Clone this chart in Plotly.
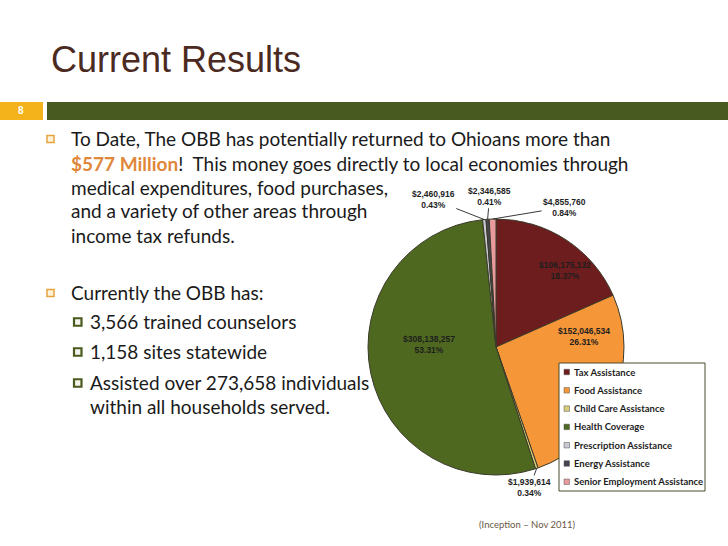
import math
import plotly.graph_objects as go

# ---------------- data ----------------
categories = ["Tax Assistance", "Food Assistance", "Child Care Assistance",
              "Health Coverage", "Prescription Assistance", "Energy Assistance",
              "Senior Employment Assistance"]
values = [106175132, 152046534, 1939614, 308138257, 2460916, 2346585, 4855760]
colors = ["#6e1d1e", "#f59638", "#d6cc7c", "#4e6820", "#c9c9d2", "#45454f", "#e89a9c"]

title_text = "Current Results"
slide_number = "8"
bullet1_lines = [
    "To Date, The OBB has potentially returned to Ohioans more than",
    "<b><span style='color:#e0873a'>$577 Million</span></b>!  This money goes directly to local economies through",
    "medical expenditures, food purchases,",
    "and a variety of other areas through",
    "income tax refunds.",
]
bullet2_line = "Currently the OBB has:"
sub_bullets = [
    ["3,566 trained counselors"],
    ["1,158 sites statewide"],
    ["Assisted over 273,658 individuals", "within all households served."],
]
footer_text = "(Inception \u2013 Nov 2011)"

# ---------------- geometry helpers ----------------
W, H = 728, 546
def px(x):
    return x / W
def py(y):
    return 1 - y / H

cx, cy, r = 496, 347, 128
total = sum(values)
pcts = [v / total * 100 for v in values]
labels_txt = [f"<b>${v:,}<br>{p:.2f}%</b>" for v, p in zip(values, pcts)]

fig = go.Figure()
fig.add_trace(go.Pie(
    labels=categories, values=values, sort=False, direction="clockwise", rotation=0,
    marker=dict(colors=colors, line=dict(color="#3a3a2a", width=1)),
    textinfo="none",
    domain=dict(x=[px(cx - r), px(cx + r)], y=[py(cy + r), py(cy - r)]),
    showlegend=False, hoverinfo="label+value+percent",
))

annotations = []
shapes = []
label_font = dict(family="Liberation Sans, Arial, sans-serif", size=8.5, color="#1e1e1e")

# labels: big slices inside (mid-angle, 0.75 r, plus nudges); small slices outside with leaders
inside_nudge = {0: (17, -4), 1: (0, 49), 3: (27, 22)}
outside_offsets = {2: (-7, 19), 4: (-51, -20), 5: (2, -23), 6: (72, -12)}
cum = 0
for i, v in enumerate(values):
    mid = (cum + v / 2) / total * 2 * math.pi
    cum += v
    if i in inside_nudge:
        rx = cx + 0.75 * r * math.sin(mid)
        ry = cy - 0.75 * r * math.cos(mid)
        dx, dy = inside_nudge[i]
        annotations.append(dict(x=px(rx), y=py(ry), xref="paper", yref="paper",
                                xanchor="center", yanchor="middle",
                                text=labels_txt[i], showarrow=False, xshift=dx, yshift=dy,
                                font=label_font, align="center"))
    elif i in outside_offsets:
        rx = cx + r * math.sin(mid)
        ry = cy - r * math.cos(mid)
        ax, ay = outside_offsets[i]
        annotations.append(dict(
            x=px(rx), y=py(ry), xref="paper", yref="paper",
            text=labels_txt[i], showarrow=True, arrowhead=0, arrowwidth=0.9,
            arrowcolor="#222222", ax=ax, ay=ay, standoff=0,
            font=label_font, align="center",
        ))

# ---------------- slide decorations ----------------
shapes.append(dict(type="rect", xref="paper", yref="paper", x0=px(0), x1=px(43),
                   y0=py(120), y1=py(102), fillcolor="#f4b31b", line=dict(width=0)))
shapes.append(dict(type="rect", xref="paper", yref="paper", x0=px(47), x1=px(728),
                   y0=py(120), y1=py(102), fillcolor="#485a1f", line=dict(width=0)))
annotations.append(dict(x=px(21), y=py(110.5), xref="paper", yref="paper", text=f"<b>{slide_number}</b>",
                        xanchor="center", yanchor="middle",
                        showarrow=False, font=dict(family="Liberation Sans, sans-serif",
                                                   size=10, color="#ffffff")))
annotations.append(dict(x=px(49), y=py(59), xref="paper", yref="paper", text=title_text,
                        showarrow=False, xanchor="left", yanchor="middle",
                        font=dict(family="Liberation Sans, Arial, sans-serif",
                                  size=36, color="#4b2a22")))

body_font = dict(family="Lato, Calibri, sans-serif", size=19, color="#1a1a1a")
line_ys = [138, 163, 187, 211, 235]
for t, y in zip(bullet1_lines, line_ys):
    annotations.append(dict(x=px(69), y=py(y), xref="paper", yref="paper", text=t,
                            showarrow=False, xanchor="left", yanchor="middle", font=body_font))
annotations.append(dict(x=px(69), y=py(292), xref="paper", yref="paper", text=bullet2_line,
                        showarrow=False, xanchor="left", yanchor="middle", font=body_font))

# orange bullets
for y in [139, 293]:
    shapes.append(dict(type="rect", xref="paper", yref="paper", x0=px(47), x1=px(54),
                       y0=py(y + 3.5), y1=py(y - 3.5), fillcolor="#fdf3dc",
                       line=dict(color="#e8a33c", width=1.5)))

sub_ys = [[321], [351], [382, 406]]
for lines, ys in zip(sub_bullets, sub_ys):
    for t, y in zip(lines, ys):
        annotations.append(dict(x=px(88), y=py(y), xref="paper", yref="paper", text=t,
                                showarrow=False, xanchor="left", yanchor="middle", font=body_font))
    y0 = ys[0] + 1
    shapes.append(dict(type="rect", xref="paper", yref="paper", x0=px(74), x1=px(81.5),
                       y0=py(y0 + 3.75), y1=py(y0 - 3.75), fillcolor="#f5f5ee",
                       line=dict(color="#4a5a1f", width=2.2)))

# ---------------- legend (manual) ----------------
lx0, ly0, lx1, ly1 = 559, 363, 705, 491
shapes.append(dict(type="rect", xref="paper", yref="paper", x0=px(lx0), x1=px(lx1),
                   y0=py(ly1), y1=py(ly0), fillcolor="#ffffff",
                   line=dict(color="#4a4a2a", width=1)))
for i, (name, col) in enumerate(zip(categories, colors)):
    yy = 372 + i * 18.3
    shapes.append(dict(type="rect", xref="paper", yref="paper", x0=px(564), x1=px(569.5),
                       y0=py(yy + 2.75), y1=py(yy - 2.75), fillcolor=col,
                       line=dict(color="#555555", width=0.5)))
    annotations.append(dict(x=px(572), y=py(yy), xref="paper", yref="paper", text=f"<b>{name}</b>",
                            showarrow=False, xanchor="left", yanchor="middle",
                            font=dict(family="Lato, Calibri, sans-serif", size=9.5, color="#1e1e1e")))

annotations.append(dict(x=px(527), y=py(524), xref="paper", yref="paper", text=footer_text,
                        xanchor="center", yanchor="middle",
                        showarrow=False, font=dict(family="Lato, Calibri, sans-serif", size=9.5,
                                                   color="#6a5845")))

fig.update_layout(
    width=W, height=H, margin=dict(l=0, r=0, t=0, b=0),
    paper_bgcolor="#ffffff", plot_bgcolor="#ffffff",
    annotations=annotations, shapes=shapes,
)
fig.write_html("out.html", config={"displayModeBar": False},
               post_script="document.body.style.margin='0';")
